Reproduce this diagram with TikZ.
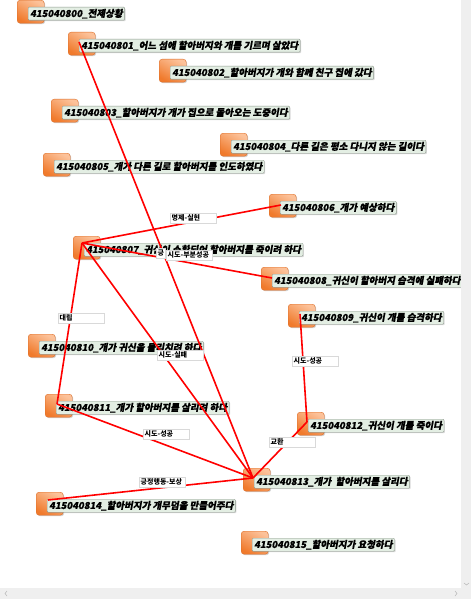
\documentclass[tikz,border=0pt]{standalone}
\usepackage{fontspec}
\newfontfamily\krfont{Noto Sans CJK KR}[FakeSlant=0.18, FakeBold=0.6]
\newfontfamily\krplain{Noto Sans CJK KR}
\usetikzlibrary{shadows}
\definecolor{iconlight}{HTML}{FCC29A}
\definecolor{icondark}{HTML}{F07A2C}
\definecolor{iconrim}{HTML}{DE6E28}
\definecolor{tagfill}{HTML}{E3EEE3}
\definecolor{tagrim}{HTML}{8E9A8E}
\definecolor{bargray}{HTML}{EFEFEF}
\newcommand{\reltext}[1]{\makebox[43pt][l]{#1}}
\tikzset{
  icon/.style={draw=iconrim, rounded corners=3pt, anchor=north west, minimum width=27pt, minimum height=23pt, inner sep=0pt,
    top color=iconlight, bottom color=icondark, shading angle=-30, drop shadow={shadow xshift=1pt, shadow yshift=-1pt, opacity=0.35}},
  tag/.style={draw=tagrim, fill=tagfill, rounded corners=1pt, anchor=north west, minimum height=13pt, inner xsep=2pt, inner ysep=0pt,
    font=\krfont\bfseries\fontsize{9.5}{10}\selectfont, drop shadow={shadow xshift=1pt, shadow yshift=-1pt, opacity=0.3}},
  rel/.style={draw=black!15, fill=white, anchor=north west, minimum height=10pt, inner xsep=1.5pt, inner ysep=0pt,
    font=\krplain\bfseries\fontsize{7}{8}\selectfont},
  link/.style={draw=red, line width=1.6pt}
}
\begin{document}
\begin{tikzpicture}[x=1pt, y=-1pt]
  \useasboundingbox (0,0) rectangle (471,599);
  \fill[white] (0,0) rectangle (471,599);
  % events
  \node[icon] (e800) at (17,0) {};
  \node[icon] (e801) at (68,32) {};
  \node[icon] (e802) at (159,59) {};
  \node[icon] (e803) at (51,99) {};
  \node[icon] (e804) at (220,133) {};
  \node[icon] (e805) at (43,153) {};
  \node[icon] (e806) at (269,194) {};
  \node[icon] (e807) at (73,236) {};
  \node[icon] (e808) at (261,267) {};
  \node[icon] (e809) at (288,304) {};
  \node[icon] (e810) at (28,334) {};
  \node[icon] (e811) at (45,394) {};
  \node[icon] (e812) at (297,412) {};
  \node[icon] (e813) at (243,468) {};
  \node[icon] (e814) at (36,492) {};
  \node[icon] (e815) at (241,531) {};
  \node[tag] (l800) at ([shift={(11,7)}]e800.north west) {415040800\_전제상황};
  \node[tag] (l801) at ([shift={(11,7)}]e801.north west) {415040801\_어느 섬에 할아버지와 개를 기르며 살았다};
  \node[tag] (l802) at ([shift={(11,7)}]e802.north west) {415040802\_할아버지가 개와 함께 친구 집에 갔다};
  \node[tag] (l803) at ([shift={(11,7)}]e803.north west) {415040803\_할아버지가 개가 집으로 돌아오는 도중이다};
  \node[tag] (l804) at ([shift={(11,7)}]e804.north west) {415040804\_다른 길은 평소 다니지 않는 길이다};
  \node[tag] (l805) at ([shift={(11,7)}]e805.north west) {415040805\_개가 다른 길로 할아버지를 인도하였다};
  \node[tag] (l806) at ([shift={(11,7)}]e806.north west) {415040806\_개가 예상하다};
  \node[tag] (l807) at ([shift={(11,7)}]e807.north west) {415040807\_귀신이 소환되어 할아버지를 죽이려 하다};
  \node[tag] (l808) at ([shift={(11,7)}]e808.north west) {415040808\_귀신이 할아버지 습격에 실패하다};
  \node[tag] (l809) at ([shift={(11,7)}]e809.north west) {415040809\_귀신이 개를 습격하다};
  \node[tag] (l810) at ([shift={(11,7)}]e810.north west) {415040810\_개가 귀신을 물리치려 하다};
  \node[tag] (l811) at ([shift={(11,7)}]e811.north west) {415040811\_개가 할아버지를 살리려 하다};
  \node[tag] (l812) at ([shift={(11,7)}]e812.north west) {415040812\_귀신이 개를 죽이다};
  \node[tag] (l813) at ([shift={(11,7)}]e813.north west) {415040813\_개가~ 할아버지를 살리다};
  \node[tag] (l814) at ([shift={(11,7)}]e814.north west) {415040814\_할아버지가 개무덤을 만들어주다};
  \node[tag] (l815) at ([shift={(11,7)}]e815.north west) {415040815\_할아버지가 요청하다};
  % relations
  \draw[link] ([shift={(11,10)}]e801.north west) -- ([shift={(10,10)}]e813.north west);
  \draw[link] ([shift={(12,11)}]e806.north west) -- ([shift={(9,7)}]e807.north west);
  \draw[link] ([shift={(9,7)}]e807.north west) -- ([shift={(11,11)}]e808.north west);
  \draw[link] ([shift={(9,7)}]e807.north west) -- ([shift={(12,10)}]e811.north west);
  \draw[link] ([shift={(9,7)}]e807.north west) -- ([shift={(10,10)}]e813.north west);
  \draw[link] ([shift={(12,10)}]e809.north west) -- ([shift={(10,10)}]e812.north west);
  \draw[link] ([shift={(10,10)}]e812.north west) -- ([shift={(10,10)}]e813.north west);
  \draw[link] ([shift={(12,10)}]e811.north west) -- ([shift={(10,10)}]e813.north west);
  \draw[link] ([shift={(12,8)}]e814.north west) -- ([shift={(10,10)}]e813.north west);
  \node[rel] (r801) at (156,248) {긍};
  \node[rel] (r806) at (170,213) {\reltext{명제-실현}};
  \node[rel] (r807) at (166,250) {\reltext{시도-부분성공}};
  \node[rel] (r811) at (58,313) {\reltext{대립}};
  \node[rel] (r813) at (157,350) {\reltext{시도-실패}};
  \node[rel] (r809) at (292,356) {\reltext{시도-성공}};
  \node[rel] (r812) at (269,437) {\reltext{교환}};
  \node[rel] (r810) at (143,429) {\reltext{시도-성공}};
  \node[rel] (r814) at (139,477) {\reltext{긍정행동-보상}};
  % scroll bars
  \fill[bargray] (461,0) rectangle (471,588);
  \fill[bargray] (0,588) rectangle (471,599);
  \draw[black!25, line width=0.6pt] (7,591) -- (5,593.5) -- (7,596);
  \draw[black!25, line width=0.6pt] (455,591) -- (457,593.5) -- (455,596);
  \draw[black!25, line width=0.6pt] (464,583) -- (466.5,585) -- (469,583);
\end{tikzpicture}
\end{document}
